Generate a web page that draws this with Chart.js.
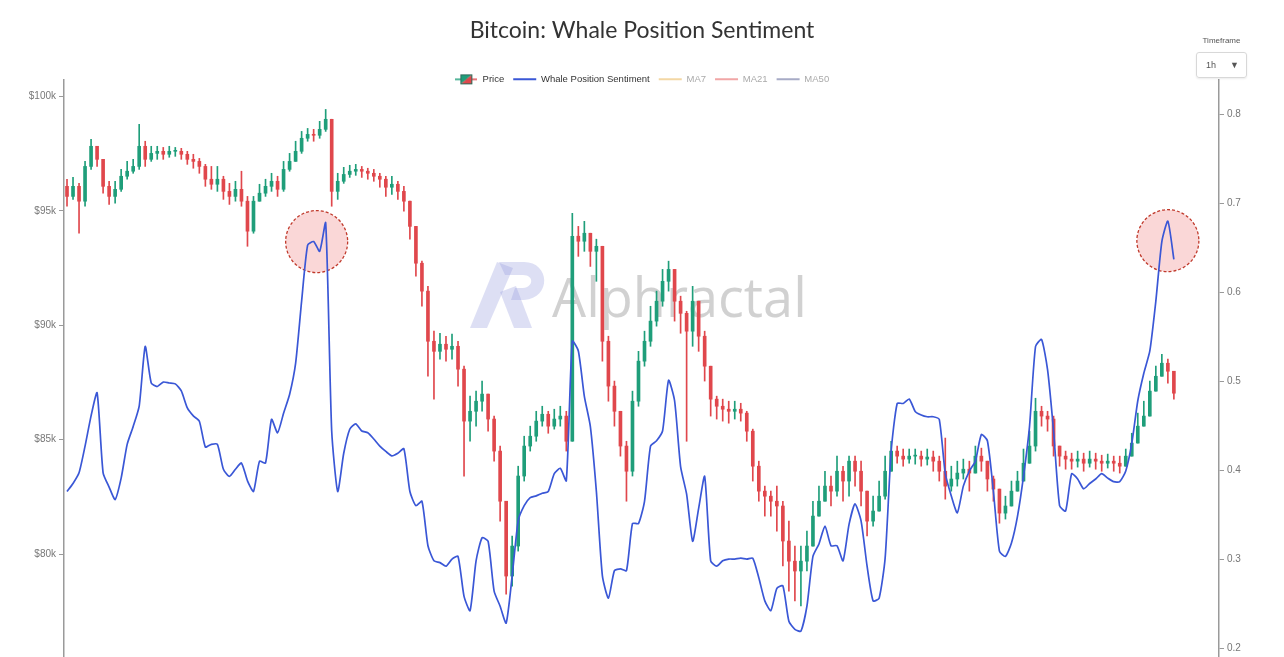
<!DOCTYPE html>
<html>
<head>
<meta charset="utf-8">
<title>Bitcoin: Whale Position Sentiment</title>
<script src="https://cdn.jsdelivr.net/npm/chart.js@4.4.1/dist/chart.umd.min.js"></script>
<style>
  html, body { margin: 0; padding: 0; background: #fff; }
  #wrap { position: relative; width: 1284px; height: 657px; overflow: hidden; }
  #tf { position: absolute; left: 1196px; top: 36px; width: 51px; font-family: 'Liberation Sans', Arial, sans-serif; color: #555; }
  #tf .lbl { font-size: 8px; text-align: center; margin-bottom: 7px; }
  #tf .box { height: 26px; border: 1px solid #d8d8d8; border-radius: 3px; font-size: 9px; display: flex; align-items: center;
             justify-content: space-between; padding: 0 7px 0 9px; box-sizing: border-box; box-shadow: 0 1px 2px rgba(0,0,0,.08); }
</style>
</head>
<body>
<div id="wrap">
  <canvas id="chart" width="1284" height="667"></canvas>
  <div id="tf"><div class="lbl">Timeframe</div><div class="box"><span>1h</span><span>&#9660;</span></div></div>
</div>
<script>
/* values, one slot per ~6 hourly candles */
const SLOTS = 192;
const firstOpen = 96070;
const priceClose = [
  95630, 96070, 95420, 96940, 97820, 97250, 96070, 95630, 95940, 96510,
  96730, 96940, 97820, 97250, 97510, 97600, 97470, 97600, 97600, 97470,
  97250, 97160, 96940, 96380, 96160, 96380, 95850, 95630, 95940, 95420,
  94110, 95420, 95770, 96070, 96290, 95940, 96810, 97160, 97600, 98170,
  98340, 98300, 98560, 99000, 95850, 96290, 96590, 96730, 96810, 96730,
  96640, 96510, 96380, 96030, 96160, 95850, 95420, 94320, 92710, 91490,
  89300, 88860, 89170, 88950, 89080, 88080, 85810, 86240, 86680, 86990,
  85900, 84500, 82310, 79040, 80350, 83410, 84720, 85150, 85810, 86110,
  85590, 85900, 86030, 84930, 93890, 93670, 94020, 93230, 93450, 89300,
  87340, 86240, 84720, 83620, 86680, 88430, 89300, 90180, 91050, 91920,
  92440, 91050, 90520, 89740, 91050, 89520, 88210, 86770, 86460, 86330,
  86240, 86330, 86160, 85370, 83840, 82750, 82530, 82310, 82100, 80570,
  79690, 79260, 79690, 80350, 81660, 82310, 82970, 82750, 83620, 83190,
  84060, 83620, 82750, 81440, 81880, 82530, 83620, 84500, 84280, 84150,
  84280, 84280, 84150, 84240, 84060, 83620, 82970, 83280, 83540, 83710,
  83540, 84280, 84060, 83280, 82840, 81790, 82100, 82750, 83190, 83970,
  84720, 86240, 86030, 85900, 84720, 84280, 84150, 84060, 84150, 83970,
  84150, 84060, 83970, 84060, 83970, 83840, 84280, 84850, 85590, 86030,
  87120, 87770, 88340, 87990, 87030
];
const priceHigh = [
  96380, 96460, 96200, 97160, 98120, 97820, 97250, 96290, 96290, 96810,
  97160, 97250, 98780, 98040, 97820, 97820, 97770, 97820, 97770, 97730,
  97600, 97470, 97290, 97030, 96940, 96940, 96510, 96200, 96290, 96730,
  95630, 95630, 96160, 96380, 96640, 96510, 97160, 97510, 98040, 98470,
  98600, 98560, 98910, 99430, 99000, 96640, 96900, 96990, 97030, 96940,
  96860, 96810, 96640, 96510, 96510, 96290, 96070, 95420, 94320, 92800,
  91700, 89740, 89650, 89520, 89610, 89300, 88210, 86900, 87120, 87560,
  86900, 86030, 84720, 82310, 80790, 83840, 85150, 85590, 86240, 86460,
  86240, 86330, 86460, 86240, 94890, 94320, 94540, 93760, 93760, 93450,
  89520, 87560, 86240, 84930, 87120, 88860, 89740, 90830, 91490, 92440,
  92800, 92360, 91270, 90610, 91700, 91050, 89740, 87990, 86900, 86770,
  86680, 86680, 86590, 86240, 85460, 84060, 82970, 82750, 82970, 82310,
  81440, 80350, 80350, 81000, 82310, 82970, 83620, 83410, 84280, 83840,
  84280, 84280, 84060, 82750, 82530, 83190, 84280, 84930, 84720, 84590,
  84590, 84590, 84500, 84590, 84500, 84280, 85070, 83840, 84060, 84150,
  84060, 84720, 84630, 84060, 83410, 82750, 82530, 83190, 83620, 84590,
  85370, 86810, 86460, 86240, 86030, 84720, 84500, 84410, 84500, 84410,
  84500, 84410, 84320, 84370, 84280, 84280, 84590, 85280, 86160, 86680,
  87560, 88210, 88730, 88520, 87770
];
const priceLow = [
  95200, 95500, 94020, 95200, 96810, 96940, 95770, 95280, 95330, 95850,
  96380, 96640, 96810, 96940, 97160, 97250, 97250, 97340, 97380, 97250,
  97030, 96860, 96640, 96070, 95940, 95850, 95500, 95280, 95420, 95200,
  93450, 94020, 95420, 95630, 95850, 95630, 95850, 96730, 97160, 97510,
  98040, 98040, 98170, 98470, 95200, 95500, 96200, 96460, 96550, 96460,
  96380, 96290, 96030, 95630, 95720, 95500, 94980, 93760, 92140, 90830,
  87770, 86770, 88520, 88430, 88520, 87340, 83410, 84930, 85590, 86240,
  85370, 84060, 81440, 78250, 78600, 80130, 83190, 84500, 84930, 85590,
  85280, 85460, 85590, 84500, 84930, 93010, 93230, 92570, 91920, 88430,
  86680, 85590, 84280, 82310, 83410, 86460, 88210, 89080, 89960, 90830,
  91490, 90180, 89650, 84930, 89080, 88860, 87560, 86030, 85900, 85810,
  85720, 85900, 85810, 84930, 83190, 82310, 81660, 81660, 81000, 79480,
  78380, 77950, 77730, 79260, 80570, 81660, 82310, 82100, 82530, 82310,
  82530, 82970, 82100, 80790, 81220, 81880, 82400, 83620, 83970, 83840,
  83970, 83930, 83840, 83890, 83620, 83190, 82400, 82750, 82970, 83280,
  82750, 83620, 83620, 82750, 82310, 81350, 81530, 82100, 82750, 83410,
  84060, 84500, 85590, 85370, 84280, 83840, 83710, 83710, 83800, 83620,
  83800, 83710, 83620, 83760, 83620, 83540, 83930, 84410, 84930, 85590,
  86240, 87120, 87770, 87470, 86770
];
const whaleSentiment = [
  0.376, 0.385, 0.397, 0.427, 0.461, 0.487, 0.397, 0.381, 0.367, 0.391,
  0.429, 0.449, 0.472, 0.539, 0.498, 0.494, 0.499, 0.498, 0.497, 0.489,
  0.470, 0.461, 0.455, 0.426, 0.429, 0.429, 0.401, 0.393, 0.401, 0.408,
  0.388, 0.376, 0.410, 0.408, 0.457, 0.442, 0.464, 0.485, 0.520, 0.590,
  0.653, 0.657, 0.646, 0.678, 0.444, 0.376, 0.419, 0.446, 0.452, 0.444,
  0.442, 0.435, 0.427, 0.421, 0.416, 0.419, 0.424, 0.376, 0.360, 0.365,
  0.315, 0.298, 0.296, 0.292, 0.300, 0.303, 0.258, 0.242, 0.298, 0.324,
  0.320, 0.264, 0.247, 0.228, 0.281, 0.343, 0.360, 0.369, 0.371, 0.374,
  0.376, 0.396, 0.402, 0.388, 0.545, 0.534, 0.483, 0.449, 0.376, 0.281,
  0.256, 0.287, 0.289, 0.287, 0.340, 0.340, 0.365, 0.427, 0.433, 0.444,
  0.501, 0.478, 0.404, 0.373, 0.320, 0.357, 0.393, 0.298, 0.292, 0.298,
  0.300, 0.300, 0.301, 0.300, 0.301, 0.279, 0.253, 0.242, 0.267, 0.270,
  0.230, 0.221, 0.219, 0.247, 0.303, 0.317, 0.337, 0.315, 0.315, 0.298,
  0.339, 0.362, 0.343, 0.292, 0.253, 0.256, 0.301, 0.421, 0.475, 0.475,
  0.480, 0.466, 0.462, 0.460, 0.460, 0.457, 0.396, 0.371, 0.352, 0.382,
  0.399, 0.410, 0.440, 0.433, 0.376, 0.309, 0.303, 0.318, 0.348, 0.393,
  0.449, 0.539, 0.547, 0.513, 0.444, 0.360, 0.354, 0.396, 0.390, 0.379,
  0.385, 0.390, 0.396, 0.391, 0.387, 0.387, 0.399, 0.430, 0.478, 0.509,
  0.534, 0.590, 0.657, 0.680, 0.637
];
const priceTicks = [80000, 85000, 90000, 95000, 100000];
const sentimentTicks = [0.2, 0.3, 0.4, 0.5, 0.6, 0.7, 0.8];
// circled spots: slot index + sentiment value
const highlightIdx = [41.5, 183];
const highlightVal = [0.657, 0.658];

const legendNames = ['Price', 'Whale Position Sentiment', 'MA7', 'MA21', 'MA50'];
const legendColors = ['#1f9e7a', '#3a57d6', '#f3d7a4', '#f1a6a6', '#a7abc6'];
const legendOn = [true, true, false, false, false];

const UP = '#1f9e7a', DOWN = '#e0474c';

const slotLabels = Array.from({ length: SLOTS }, (_, i) => String(i));
const opens = [firstOpen, ...priceClose.slice(0, -1)];
const candleColor = priceClose.map((c, i) => (c >= opens[i] ? UP : DOWN));
const bodies = priceClose.map((c, i) => [opens[i], c]);
const wicks = priceClose.map((c, i) => [
  Math.min(priceLow[i], opens[i], c),
  Math.max(priceHigh[i], opens[i], c)
]);

function priceIcon() {
  const cv = document.createElement('canvas');
  cv.width = 22; cv.height = 12;
  const g = cv.getContext('2d');
  g.lineWidth = 1.5;
  g.strokeStyle = UP; g.beginPath(); g.moveTo(0, 6); g.lineTo(11, 6); g.stroke();
  g.strokeStyle = DOWN; g.beginPath(); g.moveTo(11, 6); g.lineTo(22, 6); g.stroke();
  g.fillStyle = UP; g.beginPath(); g.moveTo(5, 1); g.lineTo(17, 1); g.lineTo(5, 11); g.closePath(); g.fill();
  g.fillStyle = DOWN; g.beginPath(); g.moveTo(17, 1); g.lineTo(17, 11); g.lineTo(5, 11); g.closePath(); g.fill();
  g.strokeStyle = '#2d6b5a'; g.lineWidth = 1; g.strokeRect(5.5, 1.5, 11, 9);
  return cv;
}
const icon = priceIcon();

// watermark behind the data
const watermark = {
  id: 'watermark',
  beforeDatasetsDraw(chart) {
    const ctx = chart.ctx;
    ctx.save();
    ctx.fillStyle = 'rgba(150,156,222,0.32)';
    ctx.beginPath();                      // A leg
    ctx.moveTo(470, 328); ctx.lineTo(487, 328); ctx.lineTo(513, 268); ctx.lineTo(497, 262); ctx.closePath(); ctx.fill();
    ctx.beginPath();                      // inner stroke
    ctx.moveTo(500, 292); ctx.lineTo(516, 286); ctx.lineTo(532, 328); ctx.lineTo(514, 328); ctx.closePath(); ctx.fill();
    ctx.beginPath();                      // P bowl
    ctx.moveTo(499, 262); ctx.lineTo(524, 262);
    ctx.bezierCurveTo(550, 262, 552, 298, 524, 300);
    ctx.lineTo(511, 300); ctx.lineTo(515, 288); ctx.lineTo(523, 288);
    ctx.bezierCurveTo(534, 287, 534, 275, 523, 275);
    ctx.lineTo(505, 275); ctx.closePath(); ctx.fill();
    ctx.fillStyle = 'rgba(120,120,120,0.34)';
    ctx.font = '54px "Open Sans"';
    ctx.textBaseline = 'alphabetic';
    ctx.fillText('Alphractal', 552, 317);
    ctx.restore();
  }
};

// dashed red circles round the two sentiment peaks
const peakCircles = {
  id: 'peakCircles',
  beforeDatasetsDraw(chart) {
    const { ctx, scales } = chart;
    ctx.save();
    highlightIdx.forEach((idx, k) => {
      const x = scales.x.getPixelForValue(idx);
      const y = scales.y1.getPixelForValue(highlightVal[k]);
      ctx.beginPath();
      ctx.arc(x, y, 31, 0, Math.PI * 2);
      ctx.fillStyle = 'rgba(240,130,130,0.32)';
      ctx.fill();
      ctx.setLineDash([3, 2]);
      ctx.lineWidth = 1.3;
      ctx.strokeStyle = '#c0392b';
      ctx.stroke();
    });
    ctx.restore();
  }
};

// legend sits a bit lower, half over the top of the plot
const legendNudge = {
  id: 'legendNudge',
  afterLayout(chart) {
    chart.legend.top += 14;
    chart.legend.bottom += 14;
  }
};

Chart.defaults.font.family = "'Liberation Sans', Arial, sans-serif";

new Chart(document.getElementById('chart'), {
  data: {
    labels: slotLabels,
    datasets: [
      { type: 'line', label: 'Whale Position Sentiment', data: whaleSentiment, yAxisID: 'y1',
        borderColor: '#3a57d6', borderWidth: 1.7, pointRadius: 0, tension: 0.2, order: 0 },
      { type: 'bar', label: 'Price', data: bodies, yAxisID: 'y', grouped: false,
        backgroundColor: candleColor, barThickness: 3, minBarLength: 1, order: 1 },
      { type: 'bar', label: 'Price wick', data: wicks, yAxisID: 'y', grouped: false,
        backgroundColor: candleColor, barThickness: 1, order: 2 }
    ]
  },
  options: {
    responsive: false,
    devicePixelRatio: 1,
    animation: false,
    layout: { padding: 0 },
    plugins: {
      title: {
        display: true, text: 'Bitcoin: Whale Position Sentiment', color: '#333',
        font: { family: 'Lato', size: 23, weight: 'normal' },
        padding: { top: 17, bottom: 7 }
      },
      legend: {
        position: 'top',
        onClick: () => {},
        labels: {
          usePointStyle: true, pointStyleWidth: 23, padding: 9,
          font: { size: 9.5 },
          generateLabels: () => legendNames.map((name, i) => ({
            text: name,
            fillStyle: legendColors[i],
            strokeStyle: legendColors[i],
            lineWidth: 2,
            pointStyle: i === 0 ? icon : 'line',
            fontColor: legendOn[i] ? '#333' : '#aaa',
            hidden: false,
            datasetIndex: i
          }))
        }
      },
      tooltip: { enabled: false }
    },
    scales: {
      x: { type: 'category', display: false, offset: true },
      y: {
        position: 'left', min: 75459, max: 100712,
        afterBuildTicks: s => { s.ticks = priceTicks.map(v => ({ value: v })); },
        afterFit: s => { s.width = 64; },
        ticks: { color: '#777', font: { size: 10 }, padding: 3, callback: v => '$' + (v / 1000) + 'k' },
        grid: { drawOnChartArea: false, drawTicks: true, tickLength: 5, color: '#9a9a9a' },
        border: { display: true, color: '#9a9a9a', width: 1.5 }
      },
      y1: {
        position: 'right', min: 0.18876, max: 0.83854,
        afterBuildTicks: s => { s.ticks = sentimentTicks.map(v => ({ value: v })); },
        afterFit: s => { s.width = 65; },
        ticks: { color: '#777', font: { size: 10 }, padding: 3, callback: v => v.toFixed(1) },
        grid: { drawOnChartArea: false, drawTicks: true, tickLength: 5, color: '#9a9a9a' },
        border: { display: true, color: '#9a9a9a', width: 1.5 }
      }
    }
  },
  plugins: [watermark, peakCircles, legendNudge]
});
</script>
</body>
</html>
